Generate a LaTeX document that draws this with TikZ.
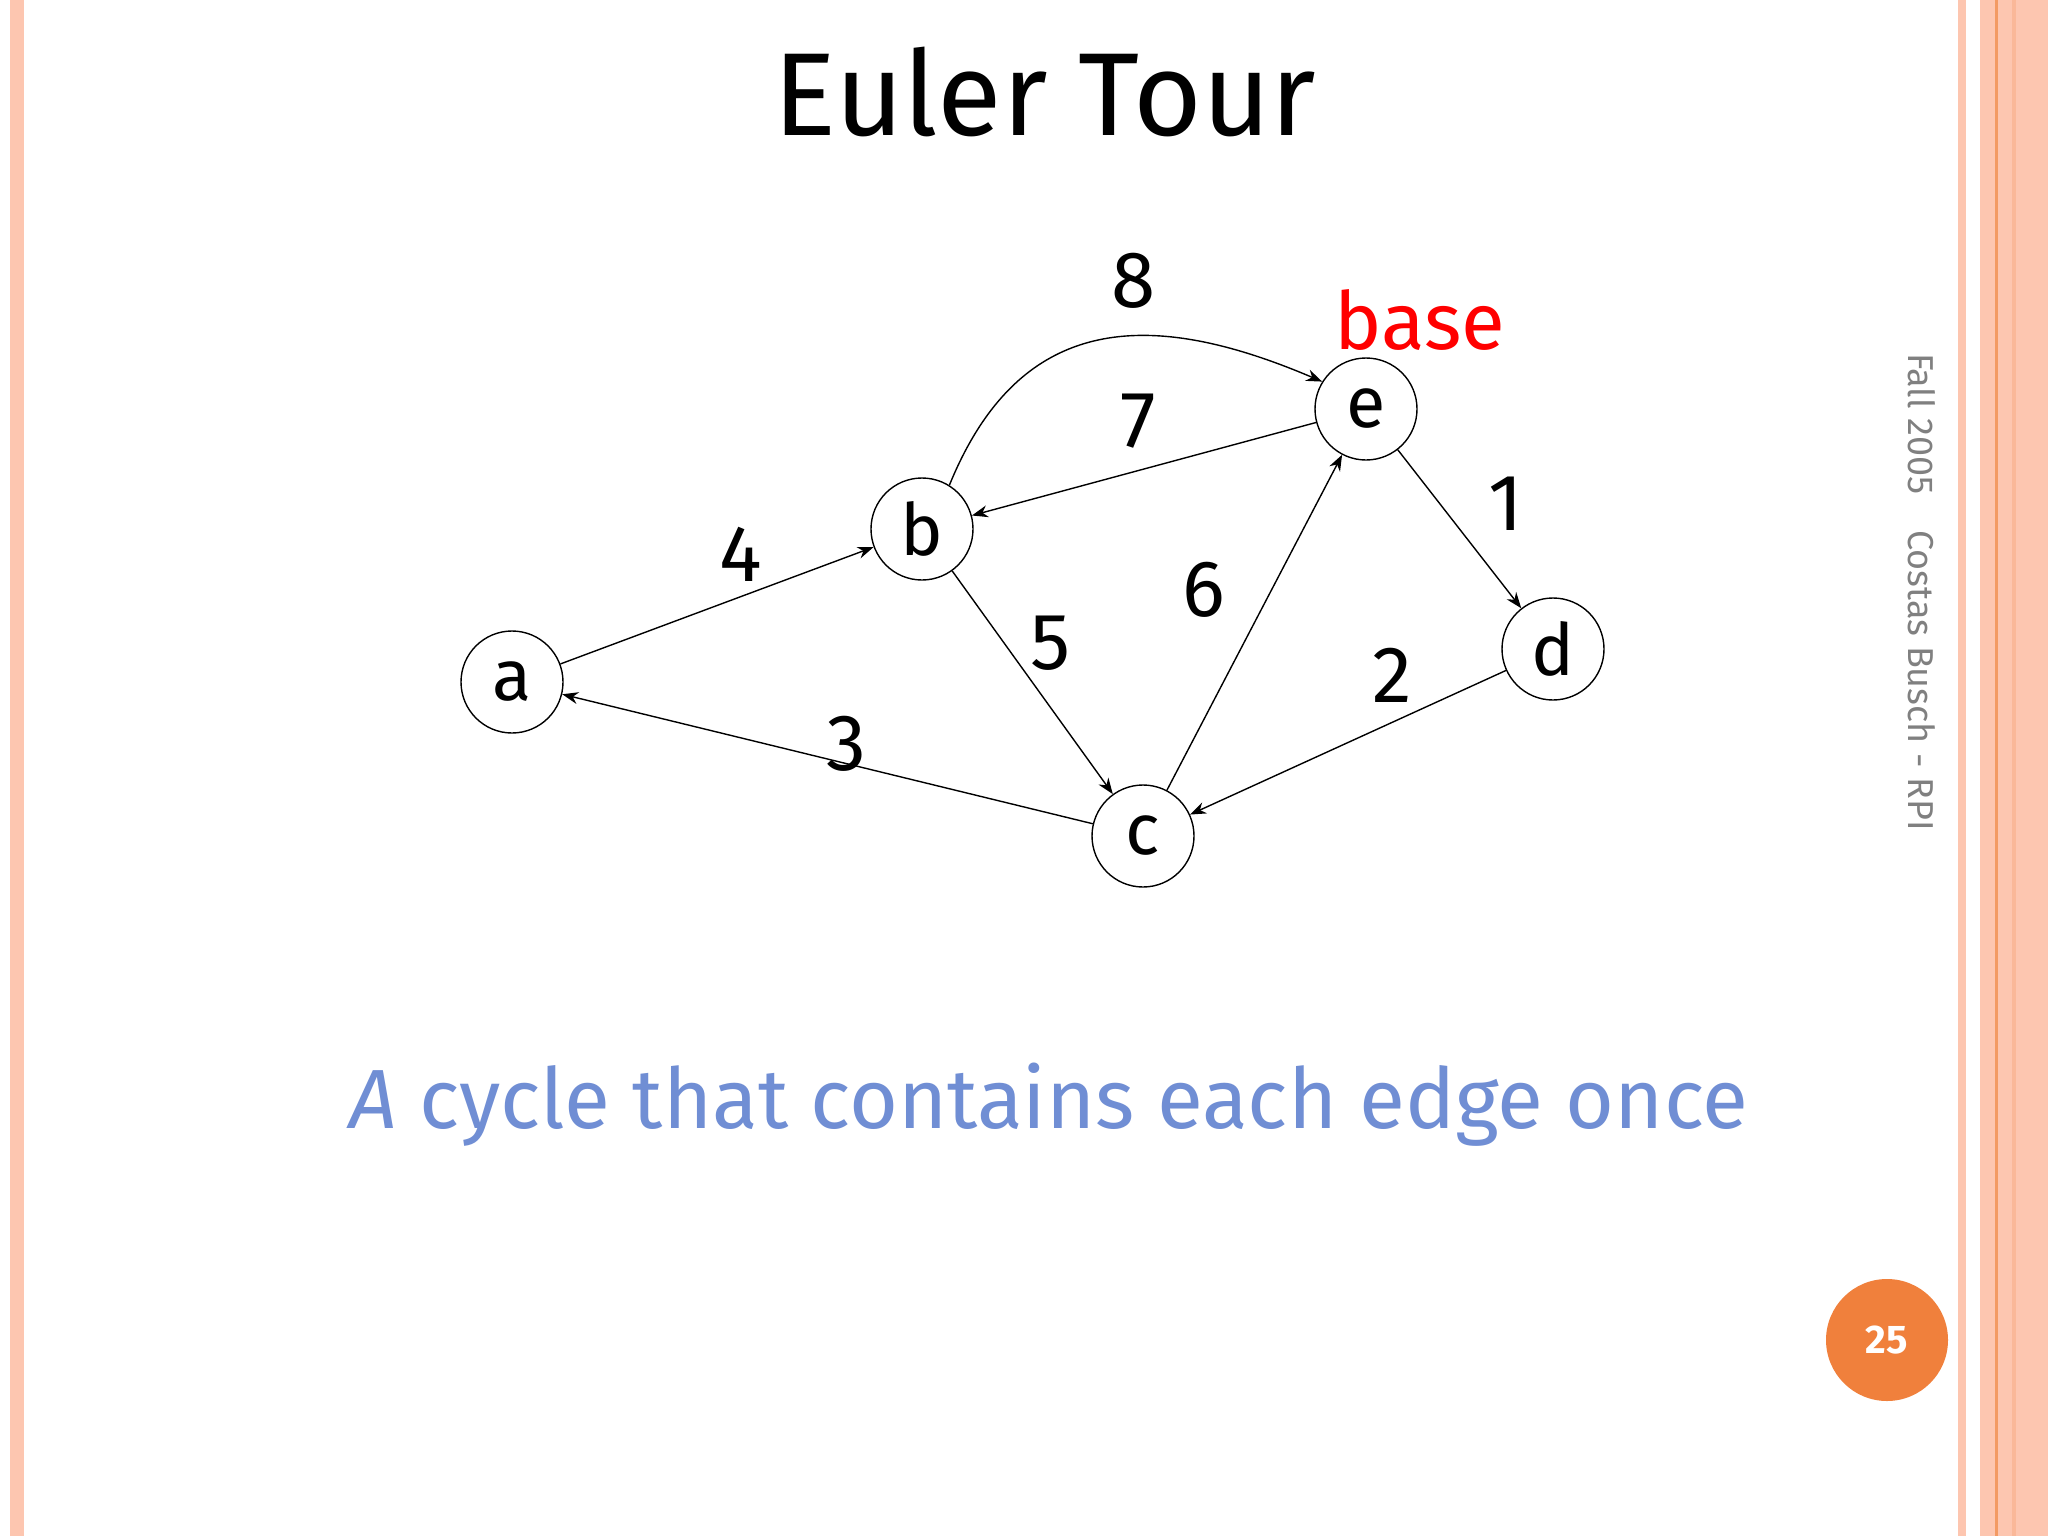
\documentclass[tikz,border=0pt]{standalone}
\usepackage{fontspec}
\setmainfont{Fira Sans}
\usetikzlibrary{arrows.meta}
\definecolor{stripe}{RGB}{253,198,176}
\definecolor{orng}{RGB}{240,128,60}
\definecolor{capblue}{RGB}{112,142,212}
\begin{document}
\begin{tikzpicture}[x=1pt,y=-1pt,
  vert/.style={circle,draw,line width=1.4pt,minimum size=102pt,inner sep=0pt,font=\fontsize{72}{72}\selectfont},
  edge/.style={line width=1.4pt,-{Stealth[length=16pt,width=12pt]}},
  num/.style={font=\fontsize{80}{80}\selectfont}]
\useasboundingbox (0,0) rectangle (2048,1536);
\fill[white] (0,0) rectangle (2048,1536);
\fill[stripe] (10,0) rectangle (24,1536);
\fill[stripe] (1958,0) rectangle (1966,1536);
\fill[stripe] (1980,0) rectangle (2048,1536);
\fill[orng!80] (1995,0) rectangle (1998,1536);
\fill[stripe!80!orng] (2012,0) rectangle (2016,1536);
\node[font=\fontsize{118}{118}\selectfont] (title) at (1045,92) {Euler Tour};
\node[vert] (a) at (512,682) {a};
\node[vert] (b) at (922,529) {b};
\node[vert] (e) at (1366,409) {e};
\node[vert] (d) at (1553,649) {d};
\node[vert] (c) at (1143,836) {c};
\draw[edge] (a) -- (b);
\draw[edge] (b) -- (c);
\draw[edge] (c) -- (e);
\draw[edge] (e) -- (b);
\draw[edge] (b.58) .. controls (1020,312) and (1150,308) .. (e.148);
\draw[edge] (e) -- (d);
\draw[edge] (d) -- (c);
\draw[edge] (c) -- (a);
\node[num] (l8) at (1134,281) {8};
\node[num] (l7) at (1138,421) {7};
\node[num] (l4) at (741,554) {4};
\node[num] (l5) at (1051,643) {5};
\node[num] (l6) at (1204,590) {6};
\node[num] (l1) at (1506,504) {1};
\node[num] (l2) at (1392,675) {2};
\node[num] (l3) at (846,744) {3};
\node[num,red] (base) at (1420,320) {base};
\node[font=\fontsize{84}{84}\selectfont,text=capblue] (cap) at (1049,1105) {\textit{A} cycle that contains each edge once};
\node[rotate=-90,text=gray,font=\fontsize{36}{36}\selectfont] (side) at (1922,592) {Fall 2005\hspace{36pt}Costas Busch - RPI};
\node[circle,fill=orng,minimum size=122pt,text=white,font=\fontsize{40}{40}\selectfont\bfseries] (pg) at (1887,1340) {25};
\end{tikzpicture}
\end{document}
